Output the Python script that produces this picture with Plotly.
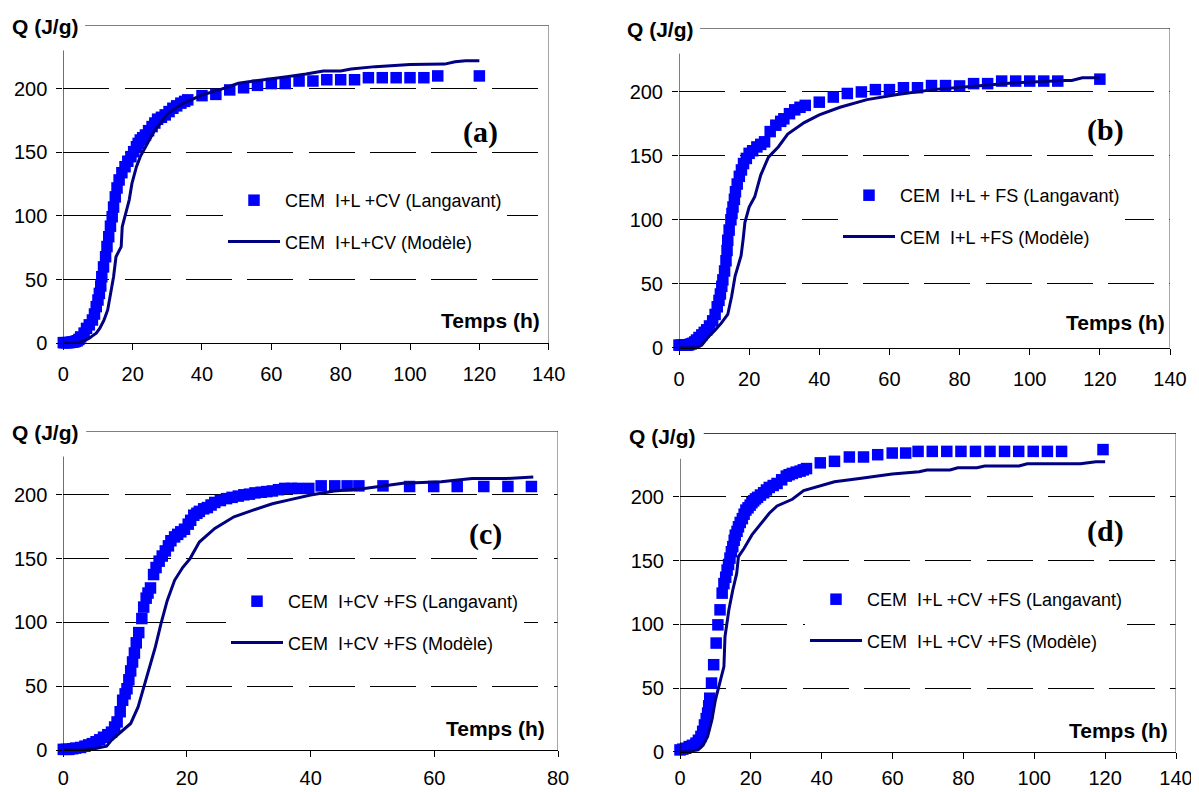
import plotly.graph_objects as go

# page is shown with an 8px body margin; figure sized to fit in the 1199x792 window
OFF = 8
W, H = 1199 - OFF, 792 - OFF

# ---------------- data ----------------
# Panel (a) CEM I+L+CV
ta_exp = [0, 0.5, 1, 1.5, 2, 2.5, 3, 3.5, 4, 4.5, 5, 6, 6.7, 7.5, 8.4, 9, 9.5, 10, 10.4, 10.8,
          11.1, 11.6, 12.2, 12.6, 13.1, 13.6, 14.1, 14.5, 15, 15.5, 16.1, 16.9, 17.8, 18.6, 19.5,
          20.3, 21.1, 21.6, 22.2, 22.9, 23.7, 24.6, 25.6, 26.4, 27.2, 28.3, 29.4, 30.5, 31.6, 32.7,
          33.9, 35, 35.9, 40, 44, 48, 52, 56, 60, 64, 68, 72, 76, 80, 84, 88, 92, 96, 100, 104, 108, 120]
qa_exp = [0.5, 0.5, 0.5, 0.5, 0.7, 1, 1, 1.5, 2, 3, 5, 8, 11.7, 14.5, 18.3, 23, 28.8, 34, 39.2, 45,
          52.3, 60, 68, 76, 83.7, 92, 99.4, 107, 115, 122, 128.3, 134, 138.7, 143, 146.6,
          150.5, 154.4, 157, 159.7, 161.5, 163.6, 167, 170.2, 173, 176, 177.5, 179.4, 182, 184.6, 186.5,
          188.6, 190, 191.2, 194.5, 195.5, 199, 200.7, 202.6, 204, 204, 206, 206, 207, 207, 207, 208.6,
          208.6, 208.6, 208.6, 208.6, 210, 210]
ta_mod = [0, 2, 4, 6, 7.5, 8.5, 9.5, 10.5, 11.7, 12.8, 13.6, 14.5, 15.2, 16, 16.7, 17, 17.8, 19, 19.8,
          21.1, 22.2, 24.4, 26.1, 28.3, 30, 32.5, 35, 37.5, 40, 45, 50.5, 55, 60, 65, 70, 75, 80, 83,
          90, 95, 100, 110, 113, 116, 120]
qa_mod = [0, 0, 0.5, 2, 4, 6, 8, 11.7, 18, 26.2, 39.2, 52.3, 68, 72, 75.9, 91.6, 99.4, 112.5, 125.6,
          138.7, 146.6, 157, 166.2, 174, 180, 185, 189, 192, 195, 199, 204.2, 206, 207.6, 209.5, 211.5,
          213.9, 213.9, 215.4, 217.3, 218, 219, 219.3, 221.1, 222, 222]

# Panel (b) CEM I+L+FS
tb_exp = [0, 0.5, 1, 1.5, 2, 2.5, 3, 3.5, 4, 4.5, 5, 5.7, 6.5, 7.2, 7.9, 8.7, 9.6, 10.3, 10.9, 11.4,
          11.8, 12.2, 12.5, 13, 13.4, 13.7, 13.9, 14.3, 14.8, 15.1, 15.4, 15.8, 16.1, 16.6, 17.2, 17.8,
          18.4, 19.2, 20, 21, 22.2, 23.3, 24.4, 26, 27.6, 29, 29.9, 31.5, 33, 34.5, 36, 40, 44, 48, 52,
          56, 60, 64, 68, 72, 76, 80, 84, 88, 92, 96, 100, 104, 108, 120]
qb_exp = [2, 2, 2, 2, 2, 2, 2.5, 3, 3.5, 4.5, 6, 8, 10, 12, 14, 17, 21, 26, 32, 37,
          42, 48, 53, 60, 68, 76, 84, 92, 100, 105, 110, 116, 122, 128, 134, 139,
          144, 148, 152, 154, 157, 159, 161, 169, 174, 177, 179, 183, 186, 188, 189.5, 192, 196, 198.8, 200,
          201.8, 201.8, 203.3, 203.3, 205, 205, 204.7, 206.5, 206.5, 208.5, 208.5, 208.5, 208.5, 208.5, 210]
tb_mod = [0, 3, 5, 6.5, 8.2, 10.4, 12, 13.9, 15, 16, 17, 17.7, 18.3, 18.8, 20, 21.6, 23.3, 25.5, 28.3,
          31, 35.7, 40, 45.9, 53.6, 62.3, 73, 84, 95, 110, 112, 115, 120]
qb_mod = [0, 0, 0, 2, 8, 14, 19, 26, 40, 56, 65, 72, 85, 98, 110, 118, 135, 149, 157,
          167, 176, 182, 188, 194, 198, 202, 204.5, 207, 209, 209, 211, 211]

# Panel (c) CEM I+CV+FS
tc_exp = [0, 0.5, 0.9, 1.5, 2, 2.8, 3.5, 4.1, 4.7, 5.3, 5.9, 6.5, 7.2, 7.8, 8.3, 8.7, 9.2, 9.6, 10,
          10.3, 10.6, 10.9, 11.2, 11.5, 11.8, 12.2, 12.7, 13, 13.4, 13.7, 14.1, 14.6, 15, 15.5, 16,
          16.5, 17, 17.4, 18, 18.5, 19, 19.6, 20.2, 20.6, 21.1, 21.6, 22, 22.7, 23.3, 23.9, 24.5, 25.4,
          26.4, 27.3, 28.3, 29.2, 30.1, 31, 32, 32.9, 33.8, 34.8, 35.8, 36.9, 37.9, 39.7, 41.7, 43.9,
          45.9, 47.8, 51.7, 56, 59.9, 63.7, 68, 71.9, 75.7]
qc_exp = [0.5, 0.5, 0.5, 1, 1.5, 2, 3, 4, 5, 6.5, 8, 10, 12, 14, 18, 22, 30, 39, 44,
          48, 55, 62, 69, 76, 84, 92, 103, 112, 119, 123, 127, 137.5, 143, 148, 152,
          156, 160, 164, 167, 169, 171, 173, 177, 180, 184, 185.5, 187, 189, 190, 192, 194, 195.5,
          197, 198, 199, 200, 200.5, 201.5, 202, 202.5, 203, 204, 205, 205, 205, 205, 207, 207,
          207, 207, 207, 206.5, 206.5, 206.5, 206.5, 206.5, 206.5]
tc_mod = [0, 3, 5, 7, 7.8, 9, 10.9, 12.1, 13, 14, 14.9, 15.8, 16.8, 18, 19.3, 20.5, 22, 24.5, 27.6,
          30.7, 33.8, 36.9, 40, 43.8, 48.7, 54.9, 61.1, 66.1, 71.7, 76]
qc_mod = [0, 0, 1, 3, 7.8, 13, 20.8, 33.8, 49.5, 65, 81, 99, 117, 133, 143, 150, 163, 173.6, 182.8,
          188, 193, 196.4, 199.8, 203, 205, 209, 210.3, 212.8, 212.8, 214]

# Panel (d) CEM I+L+CV+FS
td_exp = [0, 0.8, 1.6, 2.6, 3.5, 4.5, 5.2, 5.9, 6.4, 6.9, 7.4, 7.8, 8.1, 8.4, 8.9, 9.5, 10.2, 10.7,
          11.3, 11.9, 12.4, 12.9, 13.3, 13.7, 14.1, 14.5, 14.9, 15.3, 15.6, 16.1, 16.5, 17, 17.6, 18.1,
          18.6, 19.2, 19.8, 20.3, 20.8, 21.3, 21.9, 22.7, 23.6, 24.4, 25.2, 26.3, 27.4, 28.7, 30, 30.8,
          31.7, 32.8, 33.9, 34.8, 35.7, 39.6, 43.6, 47.8, 51.8, 55.8, 59.9, 63.7, 67.2, 71.2, 75.3, 79.3,
          83.4, 87.5, 91.6, 95.6, 99.7, 103.7, 107.7, 119.4]
qd_exp = [1.4, 2, 2.7, 4, 5, 6.7, 9, 12, 16, 21, 26, 30.3, 36, 42, 53.9, 68.3, 85.3, 99.6,
          111.4, 124.5, 132, 137, 142.6, 147, 152, 157, 161, 166, 170, 173, 176.6, 180, 183, 186.5,
          189.7, 191.5, 193.6, 195.5, 197, 198.5, 199.7, 201.5, 203.3, 205.5, 207.5, 209, 210.6, 213.5,
          216.4, 217.5, 218.5, 219.5, 220.3, 221.3, 222.3, 226.8, 228, 231.4, 231.4, 233.2, 234.5, 234.5,
          235.8, 235.8, 235.8, 235.8, 235.8, 235.8, 235.8, 235.8, 235.8, 235.8, 235.8, 237.2]
td_mod = [0, 3, 5.1, 6.5, 7.8, 9, 10, 11, 11.6, 12.4, 12.7, 13.8, 14.9, 16, 16.5, 18.1, 20.3, 23, 25.2,
          27.4, 31.7, 34.9, 38.2, 43.6, 51.2, 59.9, 67.5, 69.7, 76.2, 78.4, 83.8, 86, 95.7, 98, 113,
          117.4, 120]
qd_mod = [0, 0, 1.4, 5, 12, 25, 40.7, 52, 59, 66.8, 90.3, 111.4, 127, 140, 153.2, 159.7, 170.2, 179.4,
          187.2, 193, 198.2, 205, 207.6, 212, 214.7, 218, 219.9, 221.2, 221.2, 223, 223, 224.3, 224.3,
          226.1, 226.1, 227.7, 227.7]

labels_exp = ["CEM  I+L +CV (Langavant)", "CEM  I+L + FS (Langavant)",
              "CEM  I+CV +FS (Langavant)", "CEM  I+L +CV +FS (Langavant)"]
labels_mod = ["CEM  I+L+CV (Modèle)", "CEM  I+L +FS (Modèle)",
              "CEM  I+CV +FS (Modèle)", "CEM  I+L +CV +FS (Modèle)"]
panel_tags = ["(a)", "(b)", "(c)", "(d)"]
x_max = [140, 140, 80, 140]
x_ticks = [list(range(0, 141, 20)), list(range(0, 141, 20)), list(range(0, 81, 20)), list(range(0, 141, 20))]
y_ticks = [0, 50, 100, 150, 200]
y_label = "Q (J/g)"
x_label = "Temps (h)"

# ---------------- layout helpers (screen pixel positions) ----------------
def px(x):
    return (x - OFF) / W

def py(y):
    return 1 - (y - OFF) / H

# plot-area pixel boxes: left, right, top(=250), bottom(=0)
boxes = [(63.3, 548.7, 25.0, 343.3),
         (679.0, 1170.0, 28.0, 347.7),
         (63.3, 558.0, 431.0, 750.0),
         (680.0, 1176.0, 433.3, 751.7)]
x_standoff = [7, 7, 4, 2]
legend_pos = [(223, 182), (838, 177), (226, 583), (805, 581)]
qlabel_pos = [(10, 26.7), (625, 29), (10, 432.5), (627, 436)]
temps_pos = [(542, 320.7), (1167, 322), (547, 728.3), (1170, 730)]
tag_pos = [(480, 132.5), (1105, 130), (485, 534), (1105, 530.5)]
top_line_start = [6.3, 6.0, 3.7, 6.7]

series = [(ta_exp, qa_exp, ta_mod, qa_mod), (tb_exp, qb_exp, tb_mod, qb_mod),
          (tc_exp, qc_exp, tc_mod, qc_mod), (td_exp, qd_exp, td_mod, qd_mod)]

SANS = "Liberation Sans, Arial, sans-serif"
SERIF = "Liberation Serif, Times New Roman, serif"

fig = go.Figure()
layout = dict(width=W, height=H, margin=dict(l=0, r=0, t=0, b=0, autoexpand=False),
              paper_bgcolor="white", plot_bgcolor="white", showlegend=True,
              font=dict(family=SANS, color="black"))
shapes = []
annotations = []

for i in range(4):
    n = i + 1
    xa = "x" if n == 1 else f"x{n}"
    ya = "y" if n == 1 else f"y{n}"
    lg = "legend" if n == 1 else f"legend{n}"
    t_e, q_e, t_m, q_m = series[i]
    fig.add_trace(go.Scatter(x=t_e, y=q_e, mode="markers", name=labels_exp[i],
                             marker=dict(symbol="square", size=11.5, color="#0000FF", line=dict(width=0)),
                             xaxis=xa, yaxis=ya, legend=lg, legendgroup=f"e{n}", cliponaxis=False))
    fig.add_trace(go.Scatter(x=t_m, y=q_m, mode="lines", name=labels_mod[i],
                             line=dict(color="#000080", width=3),
                             xaxis=xa, yaxis=ya, legend=lg, legendgroup=f"m{n}", cliponaxis=False))
    l, r, t, b = boxes[i]
    xkey = "xaxis" if n == 1 else f"xaxis{n}"
    ykey = "yaxis" if n == 1 else f"yaxis{n}"
    layout[xkey] = dict(domain=[px(l), px(r)], range=[0, x_max[i]], anchor=ya, automargin=False,
                        tickvals=x_ticks[i], ticks="outside", ticklen=6, tickcolor="black",
                        showline=True, linecolor="black", linewidth=1, showgrid=False, zeroline=False,
                        tickfont=dict(size=20, family=SANS, color="black"),
                        ticklabelstandoff=x_standoff[i])
    layout[ykey] = dict(domain=[py(b), py(t)], range=[0, 250], anchor=xa, automargin=False,
                        tickvals=y_ticks, ticks="outside", ticklen=6, tickcolor="black",
                        showline=False, showgrid=True, gridcolor="black", gridwidth=1,
                        griddash="46px,15.3px", zeroline=False,
                        tickfont=dict(size=20, family=SANS, color="black"), ticklabelstandoff=5)
    lx, ly = legend_pos[i]
    layout[lg] = dict(x=px(lx), y=py(ly), xanchor="left", yanchor="top", bgcolor="white",
                      borderwidth=0, itemwidth=52, tracegroupgap=15,
                      font=dict(size=18, family=SANS, color="black"))
    # axis frame lines
    shapes.append(dict(type="line", xref=xa, yref=ya, x0=0, x1=0, y0=0, y1=230,
                       line=dict(color="black", width=1)))
    shapes.append(dict(type="line", xref=xa, yref=ya, x0=x_max[i], x1=x_max[i], y0=0, y1=250,
                       line=dict(color="#707070", width=1.2)))
    shapes.append(dict(type="line", xref=xa, yref=ya, x0=top_line_start[i], x1=x_max[i], y0=250, y1=250,
                       line=dict(color="black", width=1.2)))
    qx, qy = qlabel_pos[i]
    annotations.append(dict(text=f"<b>{y_label}</b>", xref="paper", yref="paper", x=px(qx), y=py(qy),
                            xanchor="left", yanchor="middle", showarrow=False,
                            font=dict(size=21, family=SANS, color="black")))
    tx, ty = temps_pos[i]
    annotations.append(dict(text=f"<b>{x_label}</b>", xref="paper", yref="paper", x=px(tx), y=py(ty),
                            xanchor="right", yanchor="middle", showarrow=False,
                            font=dict(size=21, family=SANS, color="black")))
    gx, gy = tag_pos[i]
    annotations.append(dict(text=f"<b>{panel_tags[i]}</b>", xref="paper", yref="paper", x=px(gx), y=py(gy),
                            xanchor="center", yanchor="middle", showarrow=False,
                            font=dict(size=30, family=SERIF, color="black")))

layout["shapes"] = shapes
layout["annotations"] = annotations
fig.update_layout(**layout)
fig.write_html("out.html")
